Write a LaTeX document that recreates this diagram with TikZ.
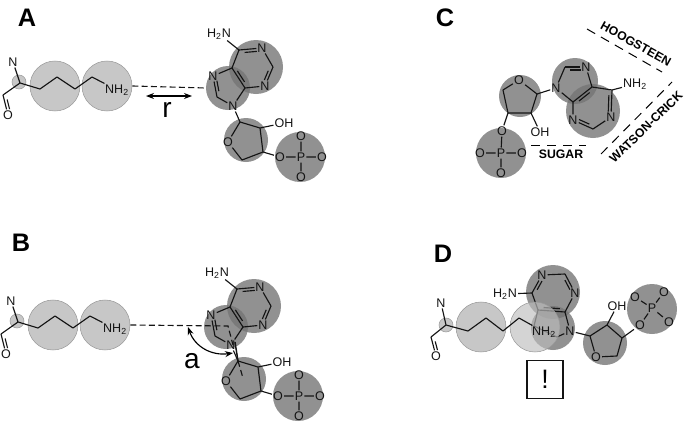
\documentclass[tikz,border=0pt]{standalone}
\usepackage{fontspec}
\setmainfont{Liberation Sans}
\usetikzlibrary{calc,arrows.meta}
\definecolor{lt}{gray}{0.78}
\definecolor{ink}{gray}{0.08}
\definecolor{glass}{gray}{0.74}
\tikzset{
  x=0.75pt,y=-0.75pt,
  lightc/.style={circle,fill=lt,draw=gray!80,line width=.4pt,minimum size=#1*0.75pt,inner sep=0pt},
  glassc/.style={circle,fill=glass,fill opacity=.65,draw=gray!80,line width=.4pt,minimum size=#1*0.75pt,inner sep=0pt},
  darkc/.style={circle,fill=black!54,fill opacity=.8,minimum size=#1*0.75pt,inner sep=0pt},
  atom/.style={inner sep=.7pt,font=\fontsize{9.4}{10}\selectfont,text=ink},
  bond/.style={draw=ink,line width=.85pt,line join=round},
  dashb/.style={draw=ink,line width=.85pt,dash pattern=on 4.5pt off 2.5pt},
  panel/.style={font=\fontsize{19}{20}\bfseries\selectfont,text=black},
  bigl/.style={font=\fontsize{21}{22}\selectfont,text=black},
  edge/.style={font=\fontsize{9.2}{10}\bfseries\selectfont,text=black,inner sep=0pt},
  edgeline/.style={draw=black,line width=.75pt,dash pattern=on 7pt off 5pt},
  arr/.style={draw=black,line width=.85pt,{Stealth[length=6pt,width=4.5pt]}-{Stealth[length=6pt,width=4.5pt]}},
}
\newcommand\dbl[3]{%
  \draw[bond] (#1)--(#2);
  \draw[bond,shorten <=4pt,shorten >=4pt] ($(#1)!2.2pt!#3:(#2)$)--($(#2)!2.2pt!-#3:(#1)$);}
\newcommand\lysbase{%
  \node[lightc=14] (ca0) at (19,82) {};
  \node[lightc=50] (cb) at (55,86) {};
  \node[lightc=50] (cc) at (107,86) {};
  \coordinate (ca) at (20,83);
  \coordinate (l1) at (40,89);
  \coordinate (l2) at (57,77);
  \coordinate (l3) at (75,89);
  \coordinate (l4) at (92,77);
  \coordinate (co) at (3,95);
  \node[atom] (n) at (13,62) {N};
  \node[atom] (o) at (8,115) {O};
  \node[atom] (nh) at (117,90) {NH\textsubscript{2}};
  \draw[bond] (n)--(ca) (ca)--(co) (ca)--(l1)--(l2)--(l3)--(l4)--(nh);
  \dbl{co}{o}{90}
}
\newcommand\adenine{%
  \node[darkc=44] (five) at (228,88) {};
  \node[darkc=54] (six) at (256,67) {};
  \node[darkc=44] (sug) at (246,140) {};
  \node[darkc=50] (pho) at (300,157) {};
  \node[atom] (h2n) at (219,34) {H\textsubscript{2}N};
  \coordinate (c6) at (239,50);
  \node[atom] (n1) at (262,48) {N};
  \coordinate (c2) at (273,67);
  \node[atom] (n3) at (265,86) {N};
  \coordinate (c4) at (245,88);
  \coordinate (c5) at (232,68);
  \node[atom] (n7) at (213,76) {N};
  \coordinate (c8) at (217,97);
  \node[atom] (n9) at (233,106) {N};
  \coordinate (s1) at (240,122);
  \node[atom] (so) at (228,142) {O};
  \coordinate (s4) at (242,160);
  \coordinate (s3) at (263,152);
  \coordinate (s2) at (260,128);
  \node[atom] (oh) at (284,123) {OH};
  \node[atom] (op) at (280,157) {O};
  \node[atom] (p) at (301,157) {P};
  \node[atom] (ot) at (301,136) {O};
  \node[atom] (or) at (322,157) {O};
  \node[atom] (ob) at (301,177) {O};
  \draw[bond] (h2n)--(c6) (n1)--(c2) (n3)--(c4) (c5)--(c6) (c8)--(n9) (n9)--(c4) (c5)--(n7);
  \dbl{c6}{n1}{-90}
  \dbl{c2}{n3}{-90}
  \dbl{c4}{c5}{-90}
  \dbl{n7}{c8}{90}
  \draw[bond] (n9)--(s1)--(so)--(s4)--(s3)--(s2)--(s1) (s2)--(oh) (s3)--(op)--(p)--(ot) (p)--(or) (p)--(ob);
}
\begin{document}
\begin{tikzpicture}
\useasboundingbox (0,0) rectangle (685,425);
% ---------- A
\node[panel] (la) at (27,18) {A};
\begin{scope}[name prefix=a-]
  \lysbase
  \adenine
\end{scope}
\draw[dashb] (a-cc.east) -- (a-five.west);
\coordinate (ra) at (146,96);
\coordinate (rb) at (192,96);
\draw[arr] (ra)--(rb);
\node[bigl] (rl) at (167,110) {r};
% ---------- B
\node[panel] (lb) at (21,243) {B};
\begin{scope}[shift={(-2,239)},name prefix=b-]
  \lysbase
  \adenine
\end{scope}
\coordinate (bv) at (228,326);
\coordinate (bv2) at (233,345);
\coordinate (bv3) at (243,378);
\coordinate (bs1) at (235,342);
\coordinate (bs2) at (238,361);
\draw[dashb] (b-cc.east) -- (bv) -- (bv2);
\draw[dashb] (bs2) -- (bv3);
\draw[bond,line width=1.1pt] (bs1)--(bs2);
\coordinate (aa) at (188,327);
\coordinate (ab) at (233,353);
\draw[arr] (aa) .. controls (195,347) and (212,356) .. (ab);
\node[bigl] (al) at (192,361) {a};
% ---------- C
\node[panel] (lc) at (445,18) {C};
\node[darkc=42] (csug) at (520,96) {};
\node[darkc=50] (cpho) at (501,153) {};
\node[darkc=46] (cfive) at (575,81) {};
\node[darkc=54] (csix) at (593,111) {};
\node[atom] (co) at (519,80) {O};
\coordinate (cs1) at (537,94);
\coordinate (cs2) at (531,113);
\coordinate (cs3) at (508,113);
\coordinate (cs4) at (503,90);
\node[atom] (coh) at (540,132) {OH};
\node[atom] (co5) at (502,131) {O};
\node[atom] (cp) at (501,153) {P};
\node[atom] (col) at (480,153) {O};
\node[atom] (cor) at (522,153) {O};
\node[atom] (cob) at (501,173) {O};
\node[atom] (cn9) at (556,88) {N};
\coordinate (cc8) at (565,67);
\node[atom] (cn7) at (586,67) {N};
\coordinate (cc5) at (592,87);
\coordinate (cc4) at (573,102);
\coordinate (cc6) at (612,90);
\node[atom] (cnh) at (635,84) {NH\textsubscript{2}};
\node[atom] (cn1) at (611,117) {N};
\coordinate (cc2) at (593,129);
\node[atom] (cn3) at (573,120) {N};
\draw[bond] (co)--(cs1)--(cs2)--(cs3)--(cs4)--(co) (cs2)--(coh) (cs3)--(co5)--(cp)--(col) (cp)--(cor) (cp)--(cob);
\draw[bond] (cs1)--(cn9)--(cc8) (cn7)--(cc5) (cc5)--(cc6) (cc6)--(cnh) (cn1)--(cc2) (cn3)--(cc4) (cc4)--(cn9);
\dbl{cc8}{cn7}{-90}
\dbl{cc5}{cc4}{90}
\dbl{cc6}{cn1}{-90}
\dbl{cc2}{cn3}{-90}
\node[edge,rotate=-29] (hoog) at (636,44) {HOOGSTEEN};
\coordinate (h1) at (587,29);
\coordinate (h2) at (662,72);
\draw[edgeline] (h1)--(h2);
\node[edge,rotate=44] (wc) at (646,127) {WATSON-CRICK};
\coordinate (w1) at (601,154);
\coordinate (w2) at (672,82);
\draw[edgeline] (w1)--(w2);
\node[edge] (sg) at (561,154) {SUGAR};
\coordinate (g1) at (531,145);
\coordinate (g2) at (586,145);
\draw[edgeline] (g1)--(g2);
% ---------- D
\node[panel] (ld) at (443,254) {D};
\node[darkc=54] (dsix) at (553,292) {};
\node[darkc=44] (dfive) at (553,328) {};
\node[darkc=44] (dsug) at (605,343) {};
\node[darkc=50] (dpho) at (652,309) {};
\node[atom] (dn1) at (542,275) {N};
\coordinate (dc2) at (565,274);
\node[atom] (dn3) at (575,293) {N};
\coordinate (dc4) at (565,312);
\coordinate (dc5) at (538,310);
\coordinate (dc6) at (532,293);
\node[atom] (dh2n) at (505,294) {H\textsubscript{2}N};
\node[atom] (dn9) at (570,331) {N};
\coordinate (dc8) at (557,337);
\coordinate (dn7) at (534,326);
\coordinate (ds1) at (590,336);
\node[atom] (dso) at (596,357) {O};
\coordinate (ds4) at (617,356);
\coordinate (ds3) at (622,338);
\coordinate (ds2) at (607,325);
\node[atom] (doh) at (617,306) {OH};
\node[atom] (dop) at (640,325) {O};
\node[atom] (dp) at (652,308) {P};
\node[atom] (do1) at (635,297) {O};
\node[atom] (do2) at (664,292) {O};
\node[atom] (do3) at (669,322) {O};
\draw[bond] (dh2n)--(dc6) (dn1)--(dc2) (dn3)--(dc4) (dc4)--(dn9) (dn9)--(dc8) (dc8)--(dn7);
\dbl{dc6}{dn1}{-90}
\dbl{dc2}{dn3}{-90}
\dbl{dc4}{dc5}{-90}
\draw[bond] (dc5)--(dc6) (dc5)--(dn7);
\draw[bond] (dn9)--(ds1)--(dso)--(ds4)--(ds3)--(ds2)--(ds1) (ds2)--(doh) (ds3)--(dop)--(dp)--(do1) (dp)--(do2) (dp)--(do3);
\node[lightc=14] (dca0) at (446,325) {};
\node[lightc=50] (dcb) at (481,327) {};
\node[glassc=50] (dcc) at (535,327) {};
\coordinate (dca) at (446,325);
\coordinate (dl1) at (468,331);
\coordinate (dl2) at (486,318);
\coordinate (dl3) at (503,331);
\coordinate (dl4) at (519,318);
\coordinate (dco) at (431,337);
\node[atom] (dn) at (441,303) {N};
\node[atom] (doo) at (436,356) {O};
\node[atom] (dnh) at (544,332) {NH\textsubscript{2}};
\draw[bond] (dn)--(dca) (dca)--(dco) (dca)--(dl1)--(dl2)--(dl3)--(dl4)--(dnh);
\dbl{dco}{doo}{90}
\node[draw=ink,line width=.9pt,minimum width=27pt,minimum height=28pt,inner sep=0pt,font=\fontsize{20}{22}\selectfont] (warn) at (545,379.5) {!};
\end{tikzpicture}
\end{document}
